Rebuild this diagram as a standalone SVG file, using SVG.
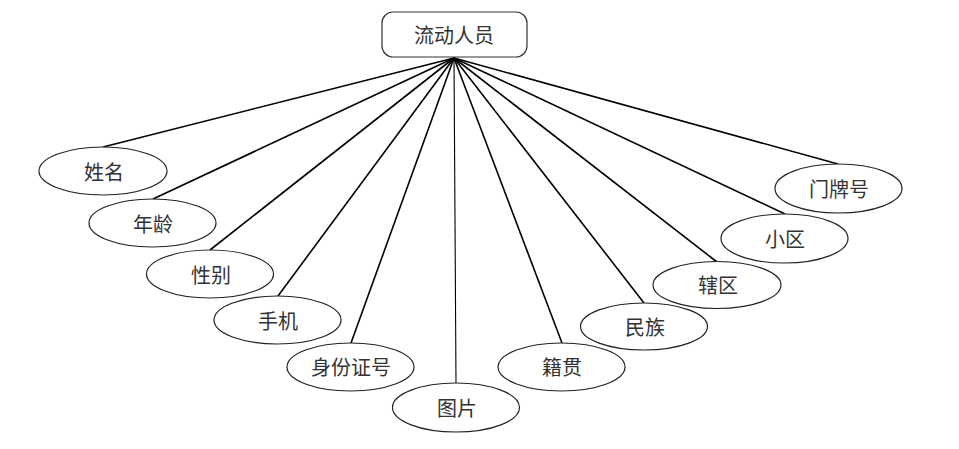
<svg xmlns="http://www.w3.org/2000/svg" width="959" height="449" viewBox="0 0 959 449">
<style>
.n ellipse{fill:#fff;stroke:#222;stroke-width:1.2}
.n rect{fill:#fff;stroke:#333;stroke-width:1.2}
.n text{font-family:"Noto Sans CJK SC","Noto Sans",sans-serif;font-size:20px;fill:#333;text-anchor:middle;dominant-baseline:central}
#edges line{stroke:#000;stroke-width:1.6}
</style>
<rect width="959" height="449" fill="#fff"/>
<g id="edges">
<line x1="454" y1="58" x2="103" y2="147"/>
<line x1="454" y1="58" x2="153" y2="199"/>
<line x1="454" y1="58" x2="210" y2="250"/>
<line x1="454" y1="58" x2="278" y2="296"/>
<line x1="454" y1="58" x2="351" y2="343"/>
<line x1="454" y1="58" x2="456" y2="383" style="stroke-width:1.1"/>
<line x1="454" y1="58" x2="562" y2="343"/>
<line x1="454" y1="58" x2="644" y2="303"/>
<line x1="454" y1="58" x2="717" y2="262"/>
<line x1="454" y1="58" x2="785" y2="214"/>
<line x1="454" y1="58" x2="838" y2="164"/>
</g>
<g id="n0" class="n"><rect x="382" y="12" width="145" height="45" rx="11"/><text x="454" y="34">流动人员</text></g>
<g id="n1" class="n"><ellipse cx="103" cy="171" rx="64" ry="24"/><text x="104" y="171">姓名</text></g>
<g id="n2" class="n"><ellipse cx="152.5" cy="223" rx="63.5" ry="24"/><text x="153" y="223">年龄</text></g>
<g id="n3" class="n"><ellipse cx="210" cy="274" rx="63.5" ry="24"/><text x="211" y="274">性别</text></g>
<g id="n4" class="n"><ellipse cx="277.5" cy="320" rx="63.5" ry="24"/><text x="278" y="320">手机</text></g>
<g id="n5" class="n"><ellipse cx="350.5" cy="367" rx="63.5" ry="24"/><text x="351" y="366">身份证号</text></g>
<g id="n6" class="n"><ellipse cx="456" cy="407.5" rx="63.5" ry="24.5"/><text x="457" y="407">图片</text></g>
<g id="n7" class="n"><ellipse cx="561.5" cy="367" rx="63.5" ry="24"/><text x="562" y="366">籍贯</text></g>
<g id="n8" class="n"><ellipse cx="644" cy="326.5" rx="63.5" ry="23.5"/><text x="645" y="326">民族</text></g>
<g id="n9" class="n"><ellipse cx="717" cy="285" rx="64" ry="23.5"/><text x="718" y="284">辖区</text></g>
<g id="n10" class="n"><ellipse cx="784.5" cy="238.5" rx="63.5" ry="24.5"/><text x="785" y="238">小区</text></g>
<g id="n11" class="n"><ellipse cx="838.5" cy="188.5" rx="63.5" ry="24.5"/><text x="839" y="188">门牌号</text></g>
</svg>
